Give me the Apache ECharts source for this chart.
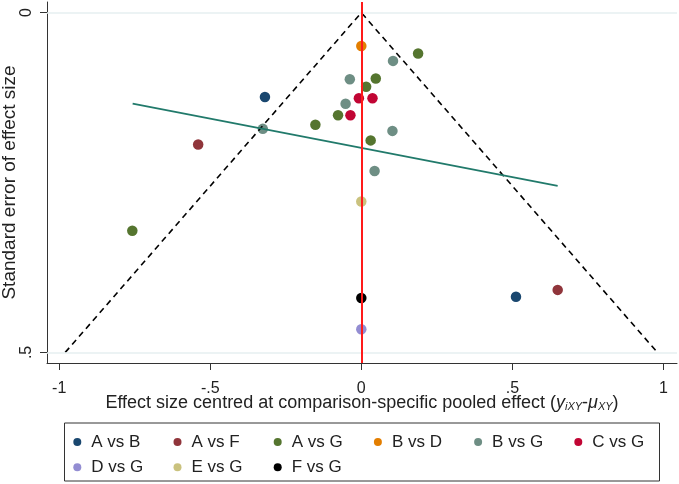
<!DOCTYPE html>
<html>
<head>
<meta charset="utf-8">
<script src="https://cdn.jsdelivr.net/npm/echarts@6/dist/echarts.min.js"></script>
<style>
  html, body { margin: 0; padding: 0; background: #fff; }
  #chart { width: 679px; height: 484px; }
</style>
</head>
<body>
<div id="chart"></div>
<script>
// comparisons and their points: [centred effect, standard error]
const groupNames = ['A vs B', 'A vs F', 'A vs G', 'B vs D', 'B vs G', 'C vs G', 'D vs G', 'E vs G', 'F vs G'];
const groupColors = ['#1a476f', '#90353b', '#55752f', '#e37e00', '#6e8e84', '#c10534', '#938dd2', '#cac27e', '#000000'];

const abPoints = [[-0.319, 0.124], [0.512, 0.418]];
const afPoints = [[-0.540, 0.194], [0.650, 0.408]];
const agPoints = [[-0.152, 0.165], [-0.077, 0.151], [0.188, 0.060], [0.048, 0.097], [0.016, 0.109], [0.031, 0.188], [-0.758, 0.321]];
const bdPoints = [[0.0, 0.049]];
const bgPoints = [[-0.326, 0.171], [0.105, 0.071], [-0.038, 0.098], [-0.052, 0.134], [0.103, 0.174], [0.044, 0.233]];
const cgPoints = [[-0.008, 0.126], [0.037, 0.126], [-0.036, 0.151]];
const dgPoints = [[0.0, 0.466]];
const egPoints = [[0.0, 0.278]];
const fgPoints = [[0.0, 0.420]];
const groupPoints = [abPoints, afPoints, agPoints, bdPoints, bgPoints, cgPoints, dgPoints, egPoints, fgPoints];

// pseudo 95% limits and fitted line
const funnelLine = [[-0.98, 0.5], [0, 0], [0.98, 0.5]];
const fitLine = [[-0.757, 0.134], [0.650, 0.255]];

const xTickValues = [-1, -0.5, 0, 0.5, 1];
const xTickLabels = ['-1', '-.5', '0', '.5', '1'];
const yTickValues = [0, 0.5];
const yTickLabels = ['0', '.5'];

const font = 'Liberation Sans, Arial, sans-serif';
const axisColor = '#333';

let myChart = echarts.init(document.getElementById('chart'));

let pointSeries = groupNames.map((name, i) => ({
    name: name,
    type: 'scatter',
    data: groupPoints[i],
    symbol: 'circle',
    symbolSize: 10.5,
    itemStyle: { color: groupColors[i], opacity: 1 },
    z: 3
}));

let legendBase = {
    orient: 'horizontal',
    left: 73.3,
    padding: 0,
    icon: 'circle',
    itemWidth: 18,
    itemHeight: 8,
    itemGap: 22.2,
    selectedMode: false,
    formatter: '{t|{name}}',
    textStyle: {
        rich: { t: { fontFamily: font, fontSize: 17, color: '#222', width: 60, lineHeight: 18 } }
    }
};

let option = {
    animation: false,
    textStyle: { fontFamily: font },
    grid: { left: 47, right: 2, top: 2, bottom: 121, outerBoundsMode: 'none', containLabel: false },
    legend: [
        Object.assign({}, legendBase, { top: 433.6, data: groupNames.slice(0, 6) }),
        Object.assign({}, legendBase, { top: 458.7, data: groupNames.slice(6) })
    ],
    graphic: [{
        type: 'rect',
        shape: { x: 64.5, y: 423, width: 595, height: 58 },
        style: { fill: 'none', stroke: axisColor, lineWidth: 1 },
        silent: true
    }],
    xAxis: {
        type: 'value',
        min: -1.0404,
        max: 1.045,
        axisLine: { show: true, onZero: false, lineStyle: { color: axisColor, width: 1 } },
        axisTick: { show: true, length: 7, customValues: xTickValues, lineStyle: { color: axisColor } },
        axisLabel: {
            customValues: xTickValues,
            margin: 18,
            fontSize: 16,
            color: '#222',
            formatter: v => xTickLabels[xTickValues.indexOf(v)]
        },
        splitLine: { show: false },
        name: '{n|Effect size centred at comparison-specific pooled effect (}{i|y}{s|iXY}{n|-}{i|\u03bc}{s|XY}{n|)}',
        nameLocation: 'middle',
        nameGap: 31,
        nameMoveOverlap: false,
        nameTextStyle: {
            rich: {
                n: { fontFamily: font, fontSize: 18, color: '#222' },
                i: { fontFamily: font, fontSize: 18, fontStyle: 'italic', color: '#222' },
                s: { fontFamily: font, fontSize: 11, fontStyle: 'italic', color: '#222', verticalAlign: 'bottom' }
            }
        }
    },
    yAxis: {
        type: 'value',
        inverse: true,
        min: -0.0157,
        max: 0.5156,
        axisLine: { show: true, onZero: false, lineStyle: { color: axisColor, width: 1 } },
        axisTick: { show: true, length: 7, customValues: yTickValues, lineStyle: { color: axisColor } },
        axisLabel: {
            customValues: yTickValues,
            rotate: 90,
            margin: 12,
            fontSize: 16,
            color: '#222',
            formatter: v => yTickLabels[yTickValues.indexOf(v)]
        },
        splitLine: { show: false },
        name: 'Standard error of effect size',
        nameLocation: 'middle',
        nameGap: 28,
        nameMoveOverlap: false,
        nameTextStyle: { fontFamily: font, fontSize: 19, color: '#222' }
    },
    series: [
        {
            name: 'ref',
            type: 'line',
            data: [],
            silent: true,
            z: 1,
            markLine: {
                silent: true,
                symbol: 'none',
                label: { show: false },
                data: [
                    { yAxis: 0, lineStyle: { color: '#e6eff1', width: 1.5, type: 'solid' } },
                    { yAxis: 0.5, lineStyle: { color: '#e6eff1', width: 1.5, type: 'solid' } },
                    { xAxis: 0, lineStyle: { color: '#ff1a1a', width: 2, type: 'solid' } }
                ]
            }
        },
        ...pointSeries,
        {
            name: 'funnel',
            type: 'line',
            data: funnelLine,
            symbol: 'none',
            silent: true,
            lineStyle: { color: '#000', width: 1.6, type: [6, 4.5] },
            z: 4
        },
        {
            name: 'fit',
            type: 'line',
            data: fitLine,
            symbol: 'none',
            silent: true,
            lineStyle: { color: '#217a6b', width: 1.8 },
            z: 4
        }
    ]
};

myChart.setOption(option);
</script>
</body>
</html>
